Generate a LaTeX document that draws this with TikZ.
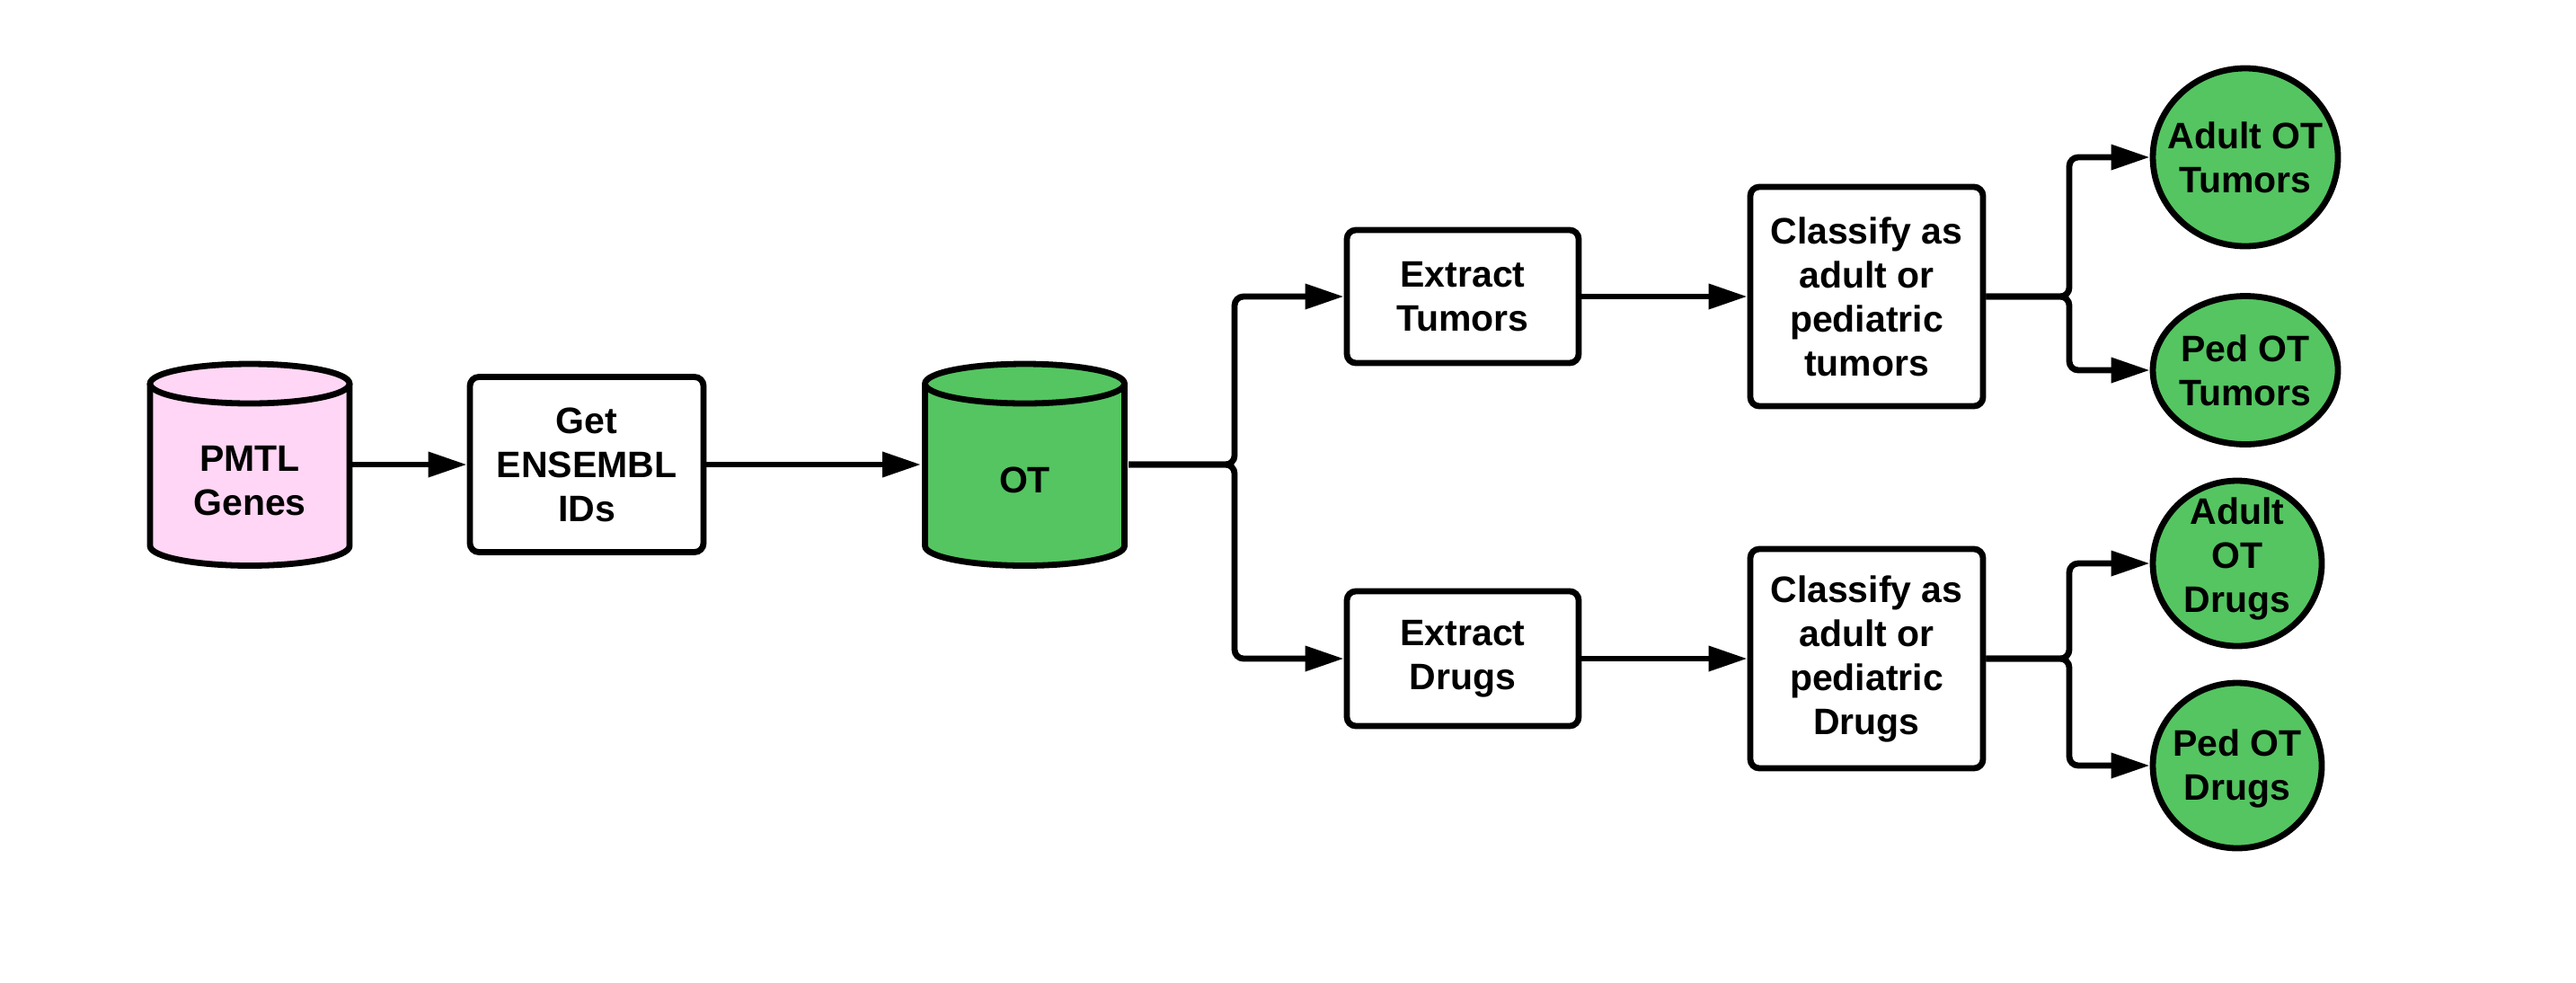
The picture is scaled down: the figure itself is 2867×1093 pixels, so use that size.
\documentclass[tikz,border=0pt]{standalone}
\usepackage{fontspec}
\setmainfont{Liberation Sans}
\usetikzlibrary{arrows.meta,shapes.geometric}
\definecolor{nodegreen}{RGB}{84,197,97}
\definecolor{nodepink}{RGB}{255,214,245}
\begin{document}
\begin{tikzpicture}[x=0.25pt,y=0.25pt,
  every node/.style={font=\fontsize{10.25pt}{12.25pt}\selectfont\bfseries, align=center},
  procbox/.style={draw, line width=1.7pt, rounded corners=2.5pt, fill=white, inner sep=0pt},
  outshape/.style={ellipse, draw, line width=1.7pt, fill=nodegreen, inner sep=0pt},
  hidden/.style={inner sep=0pt, outer sep=0pt},
  conn/.style={line width=1.7pt, rounded corners=2.5pt, -{Triangle[length=10.75pt,width=6.75pt]}},
  dbline/.style={line width=1.7pt},
]
\useasboundingbox (0,0) rectangle (2867,-1093);

% ---- PMTL Genes cylinder
\fill[nodepink] (167,-427) -- (167,-607.5)
  arc[start angle=180,end angle=360,x radius=27.75pt,y radius=5.5pt]
  -- (389,-427)
  arc[start angle=0,end angle=180,x radius=27.75pt,y radius=5.5pt] -- cycle;
\draw[dbline] (167,-427) -- (167,-607.5)
  arc[start angle=180,end angle=360,x radius=27.75pt,y radius=5.5pt]
  -- (389,-427);
\draw[dbline] (278,-427) ellipse[x radius=27.75pt,y radius=5.5pt];
\node[hidden, minimum width=57pt, minimum height=58pt] (pmtl) at (278,-517) {};
\node (pmtltext) at (278,-535) {PMTL\\Genes};

% ---- OT cylinder
\fill[nodegreen] (1029.5,-427) -- (1029.5,-607.5)
  arc[start angle=180,end angle=360,x radius=27.75pt,y radius=5.5pt]
  -- (1251.5,-427)
  arc[start angle=0,end angle=180,x radius=27.75pt,y radius=5.5pt] -- cycle;
\draw[dbline] (1029.5,-427) -- (1029.5,-607.5)
  arc[start angle=180,end angle=360,x radius=27.75pt,y radius=5.5pt]
  -- (1251.5,-427);
\draw[dbline] (1140.5,-427) ellipse[x radius=27.75pt,y radius=5.5pt];
\node[hidden, minimum width=57.75pt, minimum height=58pt] (ot) at (1140.5,-517) {};
\node (ottext) at (1140.5,-534) {OT};

% ---- process boxes
\node[procbox, minimum width=65pt, minimum height=48.75pt] (get) at (653,-517) {Get\\ENSEMBL\\IDs};
\node[procbox, minimum width=64.5pt, minimum height=37pt] (extT) at (1628,-330) {Extract\\Tumors};
\node[procbox, minimum width=64.5pt, minimum height=37.5pt] (extD) at (1628,-733) {Extract\\Drugs};
\node[procbox, minimum width=64.75pt, minimum height=61pt] (clsT) at (2077.5,-330) {Classify as\\adult or\\pediatric\\tumors};
\node[procbox, minimum width=64.75pt, minimum height=61pt] (clsD) at (2077.5,-733) {Classify as\\adult or\\pediatric\\Drugs};

% ---- outputs
\node[outshape, minimum width=51.5pt, minimum height=49.5pt] (aot) at (2499,-175) {};
\node (aottext) at (aot) {Adult OT\\Tumors};
\node[outshape, minimum width=51.5pt, minimum height=41.25pt] (pot) at (2499,-412) {};
\node (pottext) at (pot) {Ped OT\\Tumors};
\node[outshape, minimum width=47pt, minimum height=46pt] (aod) at (2490,-627) {};
\node (aodtext) at (2490,-622) {Adult\\OT\\Drugs};
\node[outshape, minimum width=47pt, minimum height=46pt] (pod) at (2490,-852) {};
\node (podtext) at (2490,-855) {Ped OT\\Drugs};

% ---- junctions
\coordinate (j1) at (1374,-517);
\coordinate (j2) at (2303,-330);
\coordinate (j3) at (2303,-733);

% ---- connectors
\draw[conn] (pmtl.east) -- (get.west);
\draw[conn] (get.east) -- (ot.west);
\draw[conn] (ot.east) -- (j1) |- (extT.west);
\draw[conn] (ot.east) -- (j1) |- (extD.west);
\draw[conn] (extT.east) -- (clsT.west);
\draw[conn] (extD.east) -- (clsD.west);
\draw[conn] (clsT.east) -- (j2) |- (aot.west);
\draw[conn] (clsT.east) -- (j2) |- (pot.west);
\draw[conn] (clsD.east) -- (j3) |- (aod.west);
\draw[conn] (clsD.east) -- (j3) |- (pod.west);
\end{tikzpicture}
\end{document}
